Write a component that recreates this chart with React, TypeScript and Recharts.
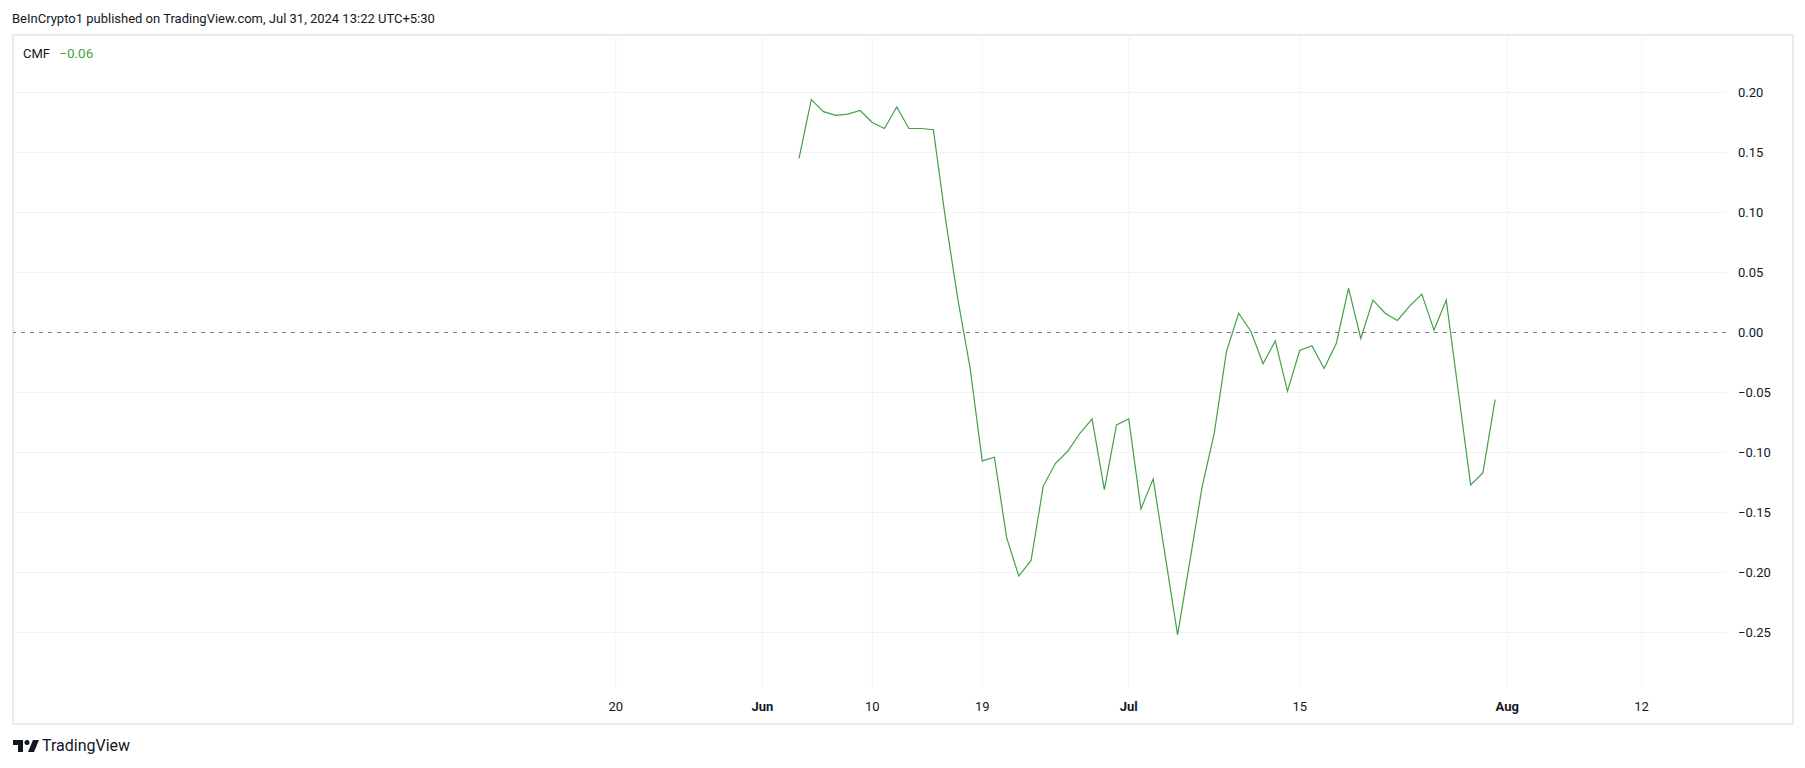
import React from 'react';
import { LineChart, Line, XAxis, YAxis, ReferenceLine } from 'recharts';

// daily CMF readings, Jun 4 – Jul 31 2024
const dates = [
  '2024-06-04', '2024-06-05', '2024-06-06', '2024-06-07', '2024-06-08', '2024-06-09', '2024-06-10',
  '2024-06-11', '2024-06-12', '2024-06-13', '2024-06-14', '2024-06-15', '2024-06-16', '2024-06-17',
  '2024-06-18', '2024-06-19', '2024-06-20', '2024-06-21', '2024-06-22', '2024-06-23', '2024-06-24',
  '2024-06-25', '2024-06-26', '2024-06-27', '2024-06-28', '2024-06-29', '2024-06-30', '2024-07-01',
  '2024-07-02', '2024-07-03', '2024-07-04', '2024-07-05', '2024-07-06', '2024-07-07', '2024-07-08',
  '2024-07-09', '2024-07-10', '2024-07-11', '2024-07-12', '2024-07-13', '2024-07-14', '2024-07-15',
  '2024-07-16', '2024-07-17', '2024-07-18', '2024-07-19', '2024-07-20', '2024-07-21', '2024-07-22',
  '2024-07-23', '2024-07-24', '2024-07-25', '2024-07-26', '2024-07-27', '2024-07-28', '2024-07-29',
  '2024-07-30', '2024-07-31',
];

const cmfValues = [
  0.145, 0.194, 0.184, 0.181, 0.182, 0.185, 0.175,
  0.170, 0.188, 0.170, 0.170, 0.169, 0.094, 0.028,
  -0.029, -0.107, -0.104, -0.171, -0.203, -0.190, -0.128,
  -0.109, -0.099, -0.084, -0.072, -0.131, -0.077, -0.072,
  -0.147, -0.122, -0.187, -0.252, -0.191, -0.129, -0.084,
  -0.016, 0.016, 0.001, -0.026, -0.007, -0.049, -0.015,
  -0.011, -0.030, -0.009, 0.037, -0.005, 0.027, 0.016,
  0.010, 0.022, 0.032, 0.002, 0.027, -0.050, -0.127,
  -0.117, -0.056,
];

const xTickDates = ['2024-05-20', '2024-06-01', '2024-06-10', '2024-06-19', '2024-07-01', '2024-07-15', '2024-08-01', '2024-08-12'];
const xTickLabels = ['20', 'Jun', '10', '19', 'Jul', '15', 'Aug', '12'];
const monthLabels = ['Jun', 'Jul', 'Aug'];

const yTicks = [-0.25, -0.2, -0.15, -0.1, -0.05, 0, 0.05, 0.1, 0.15, 0.2];

const ORIGIN = Date.UTC(2024, 5, 1);
const toDay = (d: string) => {
  const [y, m, dd] = d.split('-').map(Number);
  return (Date.UTC(y, m - 1, dd) - ORIGIN) / 86400000;
};

const data = dates.map((d, i) => ({ day: toDay(d), cmf: cmfValues[i] }));
const xTicks = xTickDates.map(toDay);

const FONT = 'Roboto, "Open Sans", sans-serif';
const TEXT = '#131722';
const GREEN = '#43a047';
const GRID = '#f0f3fa';

const fmt = (v: number) => {
  const s = Math.abs(v).toFixed(2);
  return v < 0 ? '\u2212' + s : s;
};

const DateTick = (props: any) => {
  const { x, y, payload } = props;
  const idx = xTicks.indexOf(payload.value);
  const label = idx >= 0 ? xTickLabels[idx] : '';
  const bold = monthLabels.includes(label);
  return (
    <text x={x} y={y} dy="0.71em" textAnchor="middle" fill={TEXT} fontSize={13} fontFamily={FONT} fontWeight={bold ? 700 : 400}>
      {label}
    </text>
  );
};

const TvLogo = () => (
  <svg width="26" height="12" viewBox="0 0 26 12" style={{ position: 'absolute', left: 13, top: 740 }}>
    <path d="M0 0h10v12H5V5H0z" fill={TEXT} />
    <circle cx="14" cy="2.5" r="2.5" fill={TEXT} />
    <path d="M20 0h6l-5 12h-6z" fill={TEXT} />
  </svg>
);

export default function App() {
  return (
    <div style={{ position: 'absolute', left: 0, top: 0, width: 1805, height: 768, background: '#fff', fontFamily: FONT, color: TEXT }}>
      <div style={{ position: 'absolute', left: 12, top: 11, fontSize: 13, whiteSpace: 'nowrap' }}>
        BeInCrypto1 published on TradingView.com, Jul 31, 2024 13:22 UTC+5:30
      </div>
      <div style={{ position: 'absolute', left: 12, top: 34, width: 1778, height: 687, border: '2px solid #e9ebf1' }} />
      <LineChart width={1805} height={768} data={data} margin={{ top: 35, right: 0, bottom: 34, left: 13 }} style={{ position: 'absolute', left: 0, top: 0 }}>
        <XAxis
          dataKey="day"
          type="number"
          domain={[-61.37, 78.91]}
          ticks={xTicks}
          interval={0}
          allowDataOverflow
          axisLine={false}
          tickLine={false}
          tickSize={0}
          tickMargin={13}
          height={45}
          tick={<DateTick />}
        />
        <YAxis
          orientation="right"
          type="number"
          domain={[-0.2971, 0.2479]}
          ticks={yTicks}
          interval={0}
          allowDataOverflow
          axisLine={false}
          tickLine={false}
          tickSize={0}
          tickMargin={12}
          width={79}
          tickFormatter={fmt}
          tick={{ fill: TEXT, fontSize: 13, fontFamily: FONT, textAnchor: 'start' }}
        />
        {/* grid lines only at tick values */}
        {xTicks.map((t) => (
          <ReferenceLine key={'v' + t} x={t} stroke={GRID} strokeWidth={1} />
        ))}
        {yTicks.filter((t) => t !== 0).map((t) => (
          <ReferenceLine key={'h' + t} y={t} stroke={GRID} strokeWidth={1} />
        ))}
        <ReferenceLine y={0} stroke="#787b86" strokeDasharray="4 5" strokeWidth={1} />
        <Line dataKey="cmf" type="linear" stroke={GREEN} strokeWidth={1.2} dot={false} isAnimationActive={false} />
      </LineChart>
      <div style={{ position: 'absolute', left: 23, top: 45, fontSize: 13, whiteSpace: 'nowrap' }}>
        CMF <span style={{ color: GREEN, marginLeft: 6, fontSize: 13.5 }}>{'\u22120.06'}</span>
      </div>
      <TvLogo />
      <div style={{ position: 'absolute', left: 42, top: 736, fontSize: 16, whiteSpace: 'nowrap' }}>TradingView</div>
    </div>
  );
}
